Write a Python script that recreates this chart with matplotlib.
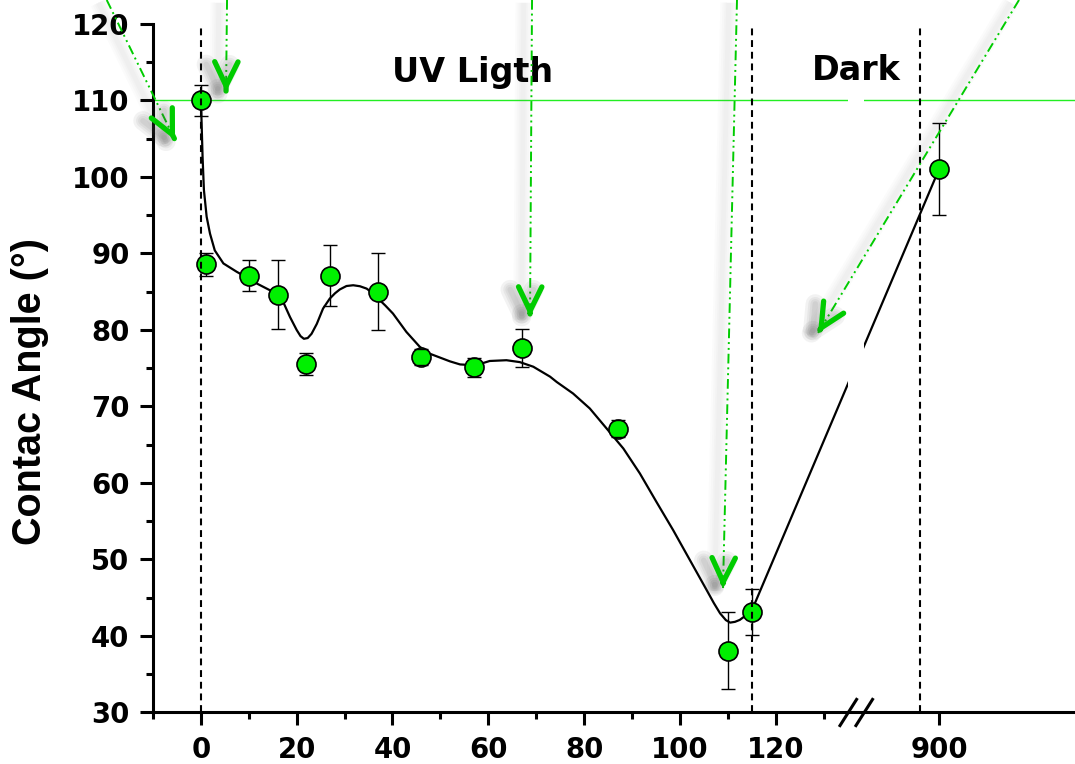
import numpy as np
import matplotlib
matplotlib.use("Agg")
import matplotlib.pyplot as plt
import matplotlib.patheffects as pe
from matplotlib.patches import Rectangle
from matplotlib.lines import Line2D

# Water contact angle vs. UV irradiation time (min); last point after storage in the dark
time_min = [0, 1, 10, 16, 22, 27, 37, 46, 57, 67, 87, 110, 115, 900]
angle_deg = [110.0, 88.6, 87.1, 84.6, 75.6, 87.1, 85.0, 76.5, 75.1, 77.6, 67.1, 38.1, 43.1, 101.0]
angle_err = [2.0, 1.5, 2.0, 4.5, 1.45, 4.0, 5.0, 1.05, 1.3, 2.5, 1.1, 5.0, 3.0, 6.0]

# Smoothed trend line through the measurements
fit_time = [0, 0.15, 0.35, 0.63, 1.2, 1.9, 2.9, 4.7, 7.5, 9.5, 11.6, 14.4, 15.8, 17.3,
            18.6, 20.0, 20.8, 21.5, 22.3, 23.1, 24.2, 25.5, 26.9, 28.0, 29.0, 30.4,
            31.8, 33.2, 34.6, 36.0, 37.0, 38.5, 40.1, 42.9, 45.7, 47.8, 49.9, 52.0,
            54.1, 56.8, 58.5, 60.3, 63.8, 66.6, 69.4, 72.9, 74.3, 77.7, 81.2, 84.7,
            88.2, 91.65, 95.1, 98.6, 102.1, 105.6, 107.1, 108.4, 109.6, 110.5, 111.5,
            112.5, 113.9, 115.0, 900]
fit_angle = [110.0, 107.0, 102.6, 98.3, 94.8, 92.6, 90.4, 88.7, 87.6, 86.9, 86.1, 85.2,
             84.8, 83.5, 81.7, 80.0, 79.2, 78.85, 78.95, 79.5, 80.8, 82.8, 84.1, 84.8,
             85.3, 85.75, 85.85, 85.72, 85.41, 84.76, 84.11, 83.2, 82.15, 79.75, 77.8,
             76.9, 76.4, 75.9, 75.5, 75.4, 75.6, 75.95, 76.05, 75.8, 75.2, 73.9, 73.2,
             71.7, 69.74, 67.13, 64.51, 61.25, 57.54, 53.84, 49.92, 46.0, 44.3, 42.96,
             42.08, 41.75, 41.85, 42.1, 42.75, 43.3, 101.0]

major_xticks = [0, 20, 40, 60, 80, 100, 120, 900]
minor_xticks = [-10, 10, 30, 50, 70, 90, 110, 130]
major_yticks = list(range(30, 121, 10))
minor_yticks = list(range(35, 120, 10))
phase_bounds = [0, 115, 896]
reference_angle = 110

# Broken x axis: [-10, BREAK_LO] continues directly at BREAK_HI
BREAK_LO = 136.7
SHIFT = 745.9
BREAK_HI = BREAK_LO + SHIFT


def fwd(x):
    x = np.asarray(x, dtype=float)
    return np.where(x <= BREAK_LO, x, np.where(x >= BREAK_HI, x - SHIFT, BREAK_LO))


def inv(t):
    t = np.asarray(t, dtype=float)
    return np.where(t <= BREAK_LO, t, t + SHIFT)


plt.rcParams['font.family'] = 'DejaVu Sans'
plt.rcParams['font.weight'] = 'bold'

fig = plt.figure(figsize=(10.75, 7.64), dpi=100)
ax = fig.add_axes([0.14233, 0.06741, 0.85767, 0.90118])
ax.set_xscale('function', functions=(fwd, inv))
ax.set_xlim(-10, 928.4)
ax.set_ylim(30, 120)

for side in ('top', 'right'):
    ax.spines[side].set_visible(False)
for side in ('left', 'bottom'):
    ax.spines[side].set_linewidth(2.2)

ax.set_xticks(major_xticks)
ax.set_xticklabels([str(v) for v in major_xticks])
ax.set_xticks(minor_xticks, minor=True)
ax.set_yticks(major_yticks)
ax.set_yticklabels([str(v) for v in major_yticks])
ax.set_yticks(minor_yticks, minor=True)
ax.tick_params(which='major', direction='out', length=9.4, width=2.2, pad=7.5,
               labelsize=19.8)
ax.tick_params(which='minor', direction='out', length=5, width=2.2)

# trend line, reference level and phase boundaries
ax.plot(fit_time, fit_angle, color='black', lw=1.6, zorder=2)
ax.axhline(reference_angle, color='#22ee22', lw=1.0, zorder=2)
for xb in phase_bounds:
    ax.axvline(xb, ymin=0, ymax=0.995, color='black', lw=1.5, dashes=(3.3, 2.3), zorder=4)

# measurements with error bars
eb = ax.errorbar(time_min, angle_deg, yerr=angle_err, fmt='none', ecolor='black',
                 elinewidth=1.0, capsize=4.7, capthick=1.0, zorder=2.6)
for cap in eb[1]:
    cap.set_zorder(3.5)
ax.plot(time_min, angle_deg, 'o', ms=13.7, mfc='#00f000', mec='black', mew=1.2, zorder=3)

# axis break
ax.add_patch(Rectangle((0.7538, 0.004), 0.0174, 1.0, transform=ax.transAxes,
                       facecolor='white', edgecolor='none', zorder=2.4))
for cx in (0.7541, 0.7714):
    ax.add_line(Line2D([cx - 0.009, cx + 0.009], [-0.019, 0.019], transform=ax.transAxes,
                       color='black', lw=2.2, clip_on=False, zorder=6))

# phase labels
ax.text(0.3471, 0.9162, 'UV Ligth', transform=ax.transAxes, ha='center', va='baseline',
        fontsize=24)
ax.text(0.7623, 0.9187, 'Dark', transform=ax.transAxes, ha='center', va='baseline',
        fontsize=24)

fig.text(30 / 1075, 1 - 391.5 / 764, 'Contac Angle (°)', rotation=90, ha='center',
         va='center', fontsize=28.5, family='Liberation Sans', weight='bold')

# highlighting arrows (axes-fraction start and tip) with a soft drop shadow
arrow_color = '#00cc00'
arrow_paths = [((-0.0502, 1.0349), (0.0239, 0.8315)),
               ((0.0803, 1.0349), (0.0792, 0.9013)),
               ((0.4111, 1.0349), (0.4089, 0.5744)),
               ((0.6334, 1.0349), (0.6182, 0.1808)),
               ((0.9393, 1.0349), (0.7213, 0.5512))]
solid = dict(dash_offset=0, dash_list=None)
line_glow = [pe.SimpleLineShadow(offset=(-6, -2), shadow_color='0.35', alpha=0.018,
                                 linewidth=w, dashes=solid)
             for w in (12, 9, 6, 3.5)] + [pe.Normal()]
head_glow = [pe.SimpleLineShadow(offset=(-6, -2), shadow_color='0.3', alpha=0.07,
                                 linewidth=w)
             for w in (14, 10, 7, 4)] + [pe.Normal()]
for (x0, y0), (x1, y1) in arrow_paths:
    ax.add_line(Line2D([x0, x1], [y0, y1], transform=ax.transAxes, color=arrow_color,
                       lw=1.4, dashes=(5, 2, 1, 2, 1, 2), clip_on=False, zorder=5,
                       path_effects=line_glow))
    bx, by = x1 + 0.01 * (x0 - x1), y1 + 0.01 * (y0 - y1)
    ax.annotate('', xy=(x1, y1), xytext=(bx, by), xycoords='axes fraction',
                textcoords='axes fraction', annotation_clip=False, zorder=5,
                arrowprops=dict(arrowstyle='->,head_length=0.62,head_width=0.3',
                                color=arrow_color, lw=3.8, shrinkA=0, shrinkB=0,
                                mutation_scale=28, capstyle='round', joinstyle='round',
                                path_effects=head_glow))

fig.savefig('out.png', dpi=100)
